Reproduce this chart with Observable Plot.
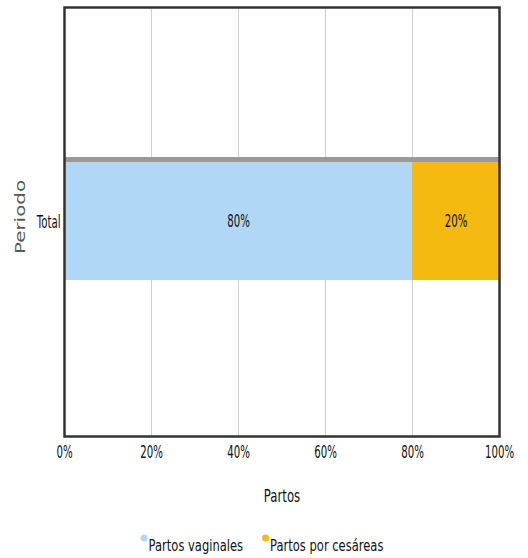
<!DOCTYPE html>
<html>
<head>
<meta charset="utf-8">
<script src="https://cdn.jsdelivr.net/npm/d3@7"></script>
<script src="https://cdn.jsdelivr.net/npm/@observablehq/plot@0.6"></script>
<style>
  html, body { margin: 0; padding: 0; background: #fff; }
  body { width: 528px; height: 558px; overflow: hidden; font-family: "DejaVu Sans", sans-serif; }
  svg { display: block; }
</style>
</head>
<body>
<div id="chart"></div>
<div id="legend"></div>
<script>
const periodos = ["Total"];
const series = ["Partos vaginales", "Partos por cesáreas"];
const valores = [80, 20];
const colores = ["#b1d7f6", "#f4ba0f"];
const xTicks = [0, 20, 40, 60, 80, 100];
const xTitle = "Partos";
const yTitle = "Periodo";

const rows = series.map((s, i) => ({periodo: periodos[0], serie: s, valor: valores[i]}));
const font = '"DejaVu Sans", sans-serif';

const chart = Plot.plot({
  width: 528,
  height: 515,
  marginLeft: 64,
  marginRight: 29,
  marginTop: 7,
  marginBottom: 79,
  style: {fontFamily: font, fontSize: "17px", color: "#111", background: "#fff"},
  x: {domain: [0, 100], ticks: xTicks, tickFormat: d => d + "%", tickSize: 0, tickPadding: 9, label: null},
  y: {domain: periodos, padding: 0.554, align: 0.49, tickSize: 0, tickPadding: 4, label: null},
  color: {domain: series, range: colores},
  marks: [
    Plot.gridX(xTicks.slice(1, -1), {stroke: "#cfcfcf", strokeOpacity: 1, strokeWidth: 1}),
    Plot.barX(rows, Plot.stackX({x: "valor", y: "periodo", fill: "#9a9a9a"})),
    Plot.barX(rows, Plot.stackX({x: "valor", y: "periodo", fill: "serie", insetTop: 5})),
    Plot.text(rows, Plot.stackX({x: "valor", y: "periodo", text: d => d.valor + "%", dy: 3, fontSize: 17, fill: "#111"})),
    Plot.frame({stroke: "#333", strokeWidth: 2.5}),
    Plot.text([xTitle], {frameAnchor: "bottom", dy: 65, fontSize: 18, fill: "#111", textAnchor: "middle"}),
    Plot.text([yTitle], {frameAnchor: "left", dx: -44, dy: -5, rotate: -90, fontSize: 14, fill: "#5a5a5a", textAnchor: "middle"})
  ]
});
document.getElementById("chart").appendChild(chart);

// Reproduce the reference's horizontally compressed lettering
function toPx(v, fs) {
  if (v == null || v === "") return 0;
  const s = String(v).trim().split(/[ ,]+/)[0];
  const n = parseFloat(s) || 0;
  return s.endsWith("em") ? n * fs : n;
}
function squeeze(el, sx, sy, oy = 0) {
  const fs = parseFloat(getComputedStyle(el).fontSize) || 16;
  const x = toPx(el.getAttribute("x"), fs);
  const y = toPx(el.getAttribute("y"), fs) + oy;
  el.removeAttribute("x");
  el.removeAttribute("y");
  const t = el.getAttribute("transform") || "";
  el.setAttribute("transform", `${t} translate(${x},${y}) scale(${sx},${sy})`);
}
chart.querySelectorAll("text").forEach(t => {
  const s = t.textContent;
  if (s === yTitle) squeeze(t, 1.42, 1);
  else if (s === xTitle) squeeze(t, 0.65, 1);
  else if (periodos.includes(s)) squeeze(t, 0.6, 1, 4);
  else squeeze(t, 0.6, 1);
});

// Legend below the chart
const lw = 528, lh = 43;
const lsvg = d3.select("#legend").append("svg").attr("width", lw).attr("height", lh);
const items = lsvg.selectAll("g").data(series).join("g");
items.append("circle").attr("r", 3.5).attr("cy", 23).attr("cx", 3.5).attr("fill", (d, i) => colores[i]);
const texts = items.append("text")
  .attr("font-family", font).attr("font-size", 16).attr("fill", "#111")
  .attr("transform", "translate(8,36) scale(0.72,1)")
  .text(d => d);
const widths = texts.nodes().map(n => 8 + n.getComputedTextLength() * 0.72);
const gap = 19;
const total = widths.reduce((a, b) => a + b, 0) + gap * (widths.length - 1);
let cx = 262 - total / 2;
items.attr("transform", (d, i) => {
  const x = cx;
  cx += widths[i] + gap;
  return `translate(${x},0)`;
});
</script>
</body>
</html>
